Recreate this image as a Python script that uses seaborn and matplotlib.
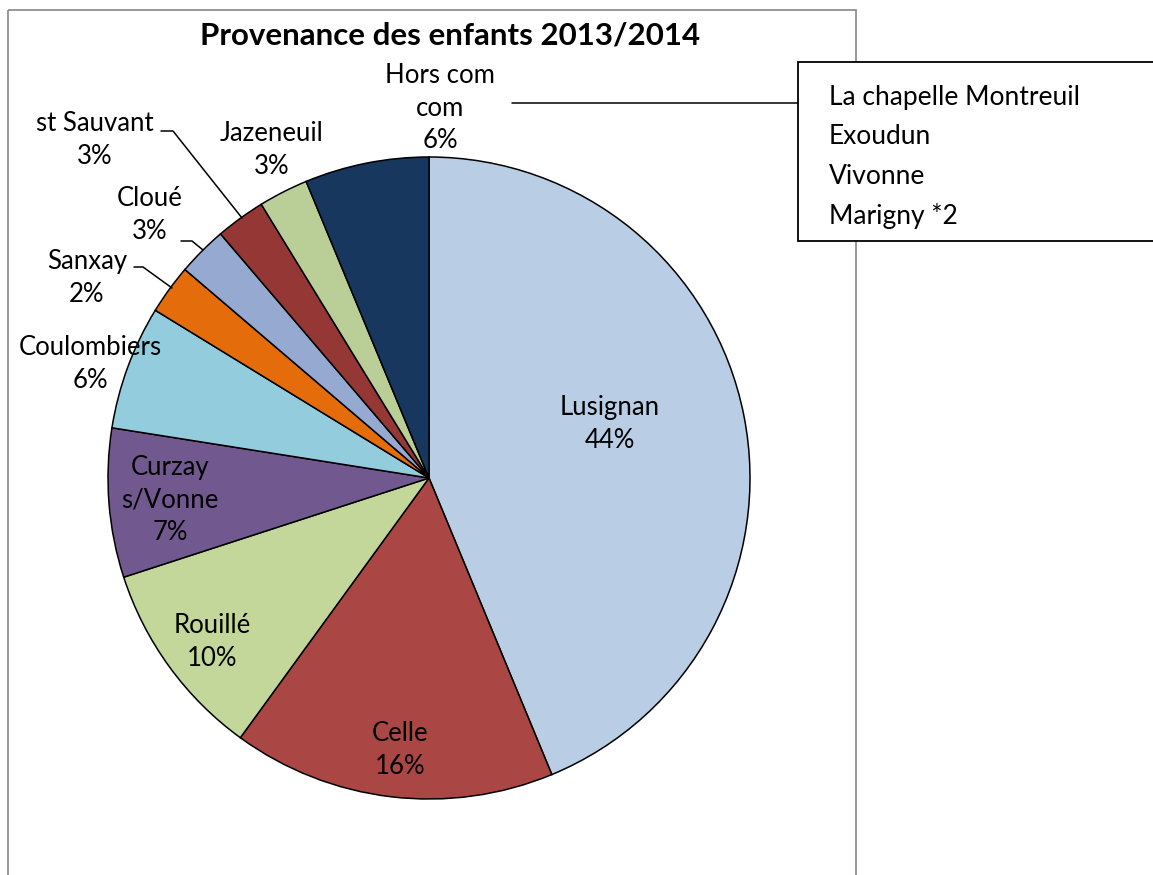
import matplotlib
matplotlib.use("Agg")
import matplotlib.pyplot as plt
import seaborn as sns
from matplotlib.patches import Rectangle

# data (children per commune, total 80)
communes = ["Lusignan", "Celle", "Rouillé", "Curzay\ns/Vonne", "Coulombiers",
            "Sanxay", "Cloué", "st Sauvant", "Jazeneuil", "Hors com\ncom"]
effectifs = [35, 13, 8, 6, 5, 2, 2, 2, 2, 5]
pct_labels = ["44%", "16%", "10%", "7%", "6%", "2%", "3%", "3%", "3%", "6%"]
couleurs = ["#B9CDE5", "#AA4643", "#C4D79B", "#71588F", "#93CDDD",
            "#E46C0A", "#95A9D1", "#953735", "#BACF98", "#17375E"]
hors_com = ["La chapelle Montreuil", "Exoudun", "Vivonne", "Marigny *2"]
titre = "Provenance des enfants 2013/2014"

# label centres in pixels (layout only)
label_pos = [(610, 424), (400, 750), (212, 642), (170, 500), (90, 364),
             (87, 278), (150, 215), (95, 140), (272, 150), (440, 108)]

sns.set_style("white")
plt.rcParams["font.family"] = ["Lato", "DejaVu Sans"]

W, H = 1153, 875
fig = plt.figure(figsize=(W / 100, H / 100), dpi=100)

cx, cy, R = 429, 478, 321
ax = fig.add_axes([(cx - R) / W, (H - cy - R) / H, 2 * R / W, 2 * R / H])
ax.pie(effectifs, colors=couleurs, startangle=90, counterclock=False,
       radius=1, wedgeprops=dict(edgecolor="black", linewidth=1.1))
ax.set_xlim(-1, 1)
ax.set_ylim(-1, 1)
ax.set_aspect("equal")
ax.axis("off")

# overlay in pixel coordinates for texts, border, callout box
ov = fig.add_axes([0, 0, 1, 1], zorder=3)
ov.set_xlim(0, W)
ov.set_ylim(H, 0)
ov.patch.set_alpha(0)
ov.axis("off")

ov.add_patch(Rectangle((8, 10), 848, 900, fill=False, edgecolor="#868686", lw=1.2))
ov.text(450, 35, titre, ha="center", va="center", fontsize=22.5, fontweight="bold",
        color="black")

for nom, pct, (x, y) in zip(communes, pct_labels, label_pos):
    ov.text(x, y, nom + "\n" + pct, ha="center", va="center", fontsize=18.5,
            linespacing=1.36, color="black")

# leader lines
ov.plot([161, 173, 242], [131, 131, 218], color="black", lw=1.1)
ov.plot([181, 192, 203], [241, 241, 250], color="black", lw=1.1)
ov.plot([134, 143, 172], [267, 267, 288], color="black", lw=1.1)
ov.plot([512, 798], [103, 103], color="black", lw=1.1)

# callout box listing the "hors com com" communes
ov.add_patch(Rectangle((798, 62), 370, 179, facecolor="white", edgecolor="black", lw=1.3))
for i, nom in enumerate(hors_com):
    ov.text(829, 97 + i * 39.7, nom, ha="left", va="center", fontsize=19,
            color="black")

fig.savefig("out.png", dpi=100)
